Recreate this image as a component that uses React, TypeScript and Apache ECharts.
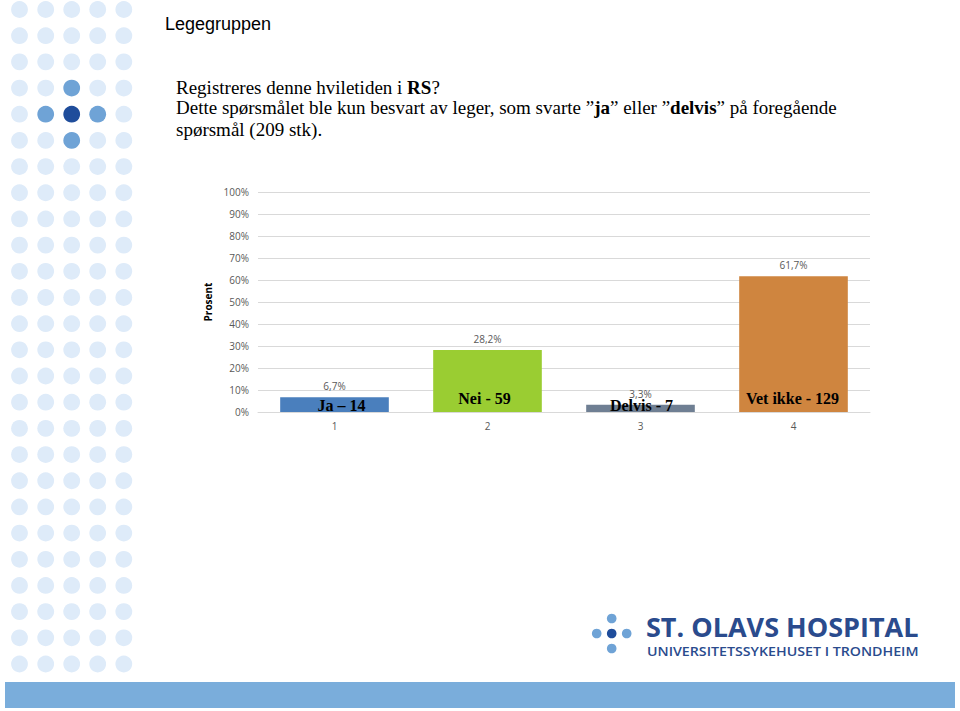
import React, { useEffect, useRef } from "react";
import * as echarts from "echarts";

const categories = ["1", "2", "3", "4"];
const percentValues = [6.7, 28.2, 3.3, 61.7];
const answerNames = ["Ja – 14", "Nei - 59", "Delvis - 7", "Vet ikke - 129"];
const barColors = ["#4a7fbd", "#9acd32", "#6f7f93", "#cf853f"];
const yTicks = [0, 10, 20, 30, 40, 50, 60, 70, 80, 90, 100];

const labelOffsets: [number, number][] = [
  [7, 1],
  [-3, -6],
  [1, 1],
  [-1, -6],
];

function buildGraphics() {
  const g: any[] = [];
  const cols = [19.5, 45.7, 71.7, 97.7, 123.8];
  const highlights: Record<string, string> = {
    "2,3": "#6fa3d6",
    "1,4": "#6fa3d6",
    "2,4": "#1f4d9b",
    "3,4": "#6fa3d6",
    "2,5": "#6fa3d6",
  };
  for (let r = 0; r < 26; r++) {
    const cy = 9.5 + r * 26.18;
    for (let c = 0; c < cols.length; c++) {
      const fill = highlights[`${c},${r}`] || "#deebf9";
      g.push({
        type: "circle",
        shape: { cx: cols[c], cy, r: 8.4 },
        style: { fill },
        silent: true,
      });
    }
  }
  g.push({
    type: "rect",
    shape: { x: 5, y: 682, width: 950, height: 26 },
    style: { fill: "#7aaddb" },
    silent: true,
  });
  g.push({
    type: "text",
    x: 165,
    y: 24,
    style: {
      text: "Legegruppen",
      font: '18px "Liberation Sans", Arial, sans-serif',
      fill: "#000",
      verticalAlign: "middle",
    },
  });
  const serif = '"Liberation Serif", "Times New Roman", serif';
  const rich = {
    n: { fontFamily: serif, fontSize: 19, fill: "#000" },
    b: { fontFamily: serif, fontSize: 19, fontWeight: "bold", fill: "#000" },
  };
  const lines = [
    "{n|Registreres denne hviletiden i }{b|RS}{n|?}",
    "{n|Dette spørsmålet ble kun besvart av leger, som svarte ”}{b|ja}{n|” eller ”}{b|delvis}{n|” på foregående}",
    "{n|spørsmål (209 stk).}",
  ];
  const ys = [87, 107, 129];
  lines.forEach((t, i) => {
    g.push({
      type: "text",
      x: 176,
      y: ys[i],
      style: { text: t, rich, verticalAlign: "middle", fill: "#000" },
    });
  });
  const logoDots = [
    [611.7, 618.5, "#6fa3d6"],
    [596.7, 633.5, "#6fa3d6"],
    [611.7, 633.5, "#1f4d9b"],
    [626.7, 633.5, "#6fa3d6"],
    [611.7, 648.5, "#6fa3d6"],
  ];
  logoDots.forEach(([cx, cy, fill]) => {
    g.push({
      type: "circle",
      shape: { cx, cy, r: 4.8 },
      style: { fill },
      silent: true,
    });
  });
  g.push({
    type: "text",
    x: 646,
    y: 626,
    style: {
      text: "ST. OLAVS HOSPITAL",
      font: 'bold 27px "Open Sans", "DejaVu Sans", sans-serif',
      fill: "#2a4b8d",
      verticalAlign: "middle",
    },
  });
  g.push({
    type: "text",
    x: 647,
    y: 651,
    scaleX: 1.185,
    style: {
      text: "UNIVERSITETSSYKEHUSET I TRONDHEIM",
      font: '600 12px "Open Sans", "DejaVu Sans", sans-serif',
      fill: "#2a4b8d",
      verticalAlign: "middle",
    },
  });
  return g;
}

export default function App() {
  const ref = useRef<HTMLDivElement>(null);
  useEffect(() => {
    if (!ref.current) return;
    const chart = echarts.init(ref.current, undefined, { renderer: "svg" });
    const sans = '"Open Sans", "Liberation Sans", sans-serif';
    chart.setOption({
      animation: false,
      backgroundColor: "#ffffff",
      grid: { left: 258, right: 90, top: 192, bottom: 299, containLabel: false },
      xAxis: {
        type: "category",
        data: categories,
        axisTick: { show: false },
        axisLine: { show: true, lineStyle: { color: "#d9d9d9" } },
        axisLabel: { color: "#595959", fontSize: 10, fontFamily: sans, margin: 9 },
      },
      yAxis: {
        type: "value",
        min: yTicks[0],
        max: yTicks[yTicks.length - 1],
        interval: 10,
        name: "Prosent",
        nameLocation: "middle",
        nameGap: 36,
        nameTextStyle: { fontSize: 10, fontWeight: "bold", color: "#000", fontFamily: sans },
        axisLabel: {
          color: "#595959",
          fontSize: 10,
          fontFamily: sans,
          margin: 9,
          formatter: (v: number) => `${v}%`,
        },
        splitLine: { lineStyle: { color: "#d9d9d9", width: 1 } },
        axisLine: { show: false },
        axisTick: { show: false },
      },
      series: [
        {
          type: "bar",
          barWidth: "71%",
          data: percentValues.map((v, i) => ({
            value: v,
            itemStyle: { color: barColors[i] },
          })),
          label: {
            show: true,
            position: "top",
            distance: 6,
            color: "#595959",
            fontSize: 10,
            fontFamily: sans,
            formatter: (p: any) => `${String(p.value).replace(".", ",")}%`,
          },
          z: 2,
        },
        {
          type: "bar",
          barWidth: "71%",
          barGap: "-100%",
          silent: true,
          itemStyle: { color: "rgba(0,0,0,0)" },
          data: percentValues.map((v, i) => ({
            value: v,
            label: { offset: labelOffsets[i] },
          })),
          label: {
            show: true,
            position: "insideBottom",
            distance: 0,
            color: "#000",
            fontSize: 16,
            fontWeight: "bold",
            fontFamily: '"Liberation Serif", "Times New Roman", serif',
            formatter: (p: any) => answerNames[p.dataIndex],
          },
          z: 3,
        },
      ],
      graphic: buildGraphics(),
    });
    return () => chart.dispose();
  }, []);
  return (
    <div
      ref={ref}
      style={{ position: "fixed", left: 0, top: 0, width: 960, height: 711 }}
    />
  );
}
